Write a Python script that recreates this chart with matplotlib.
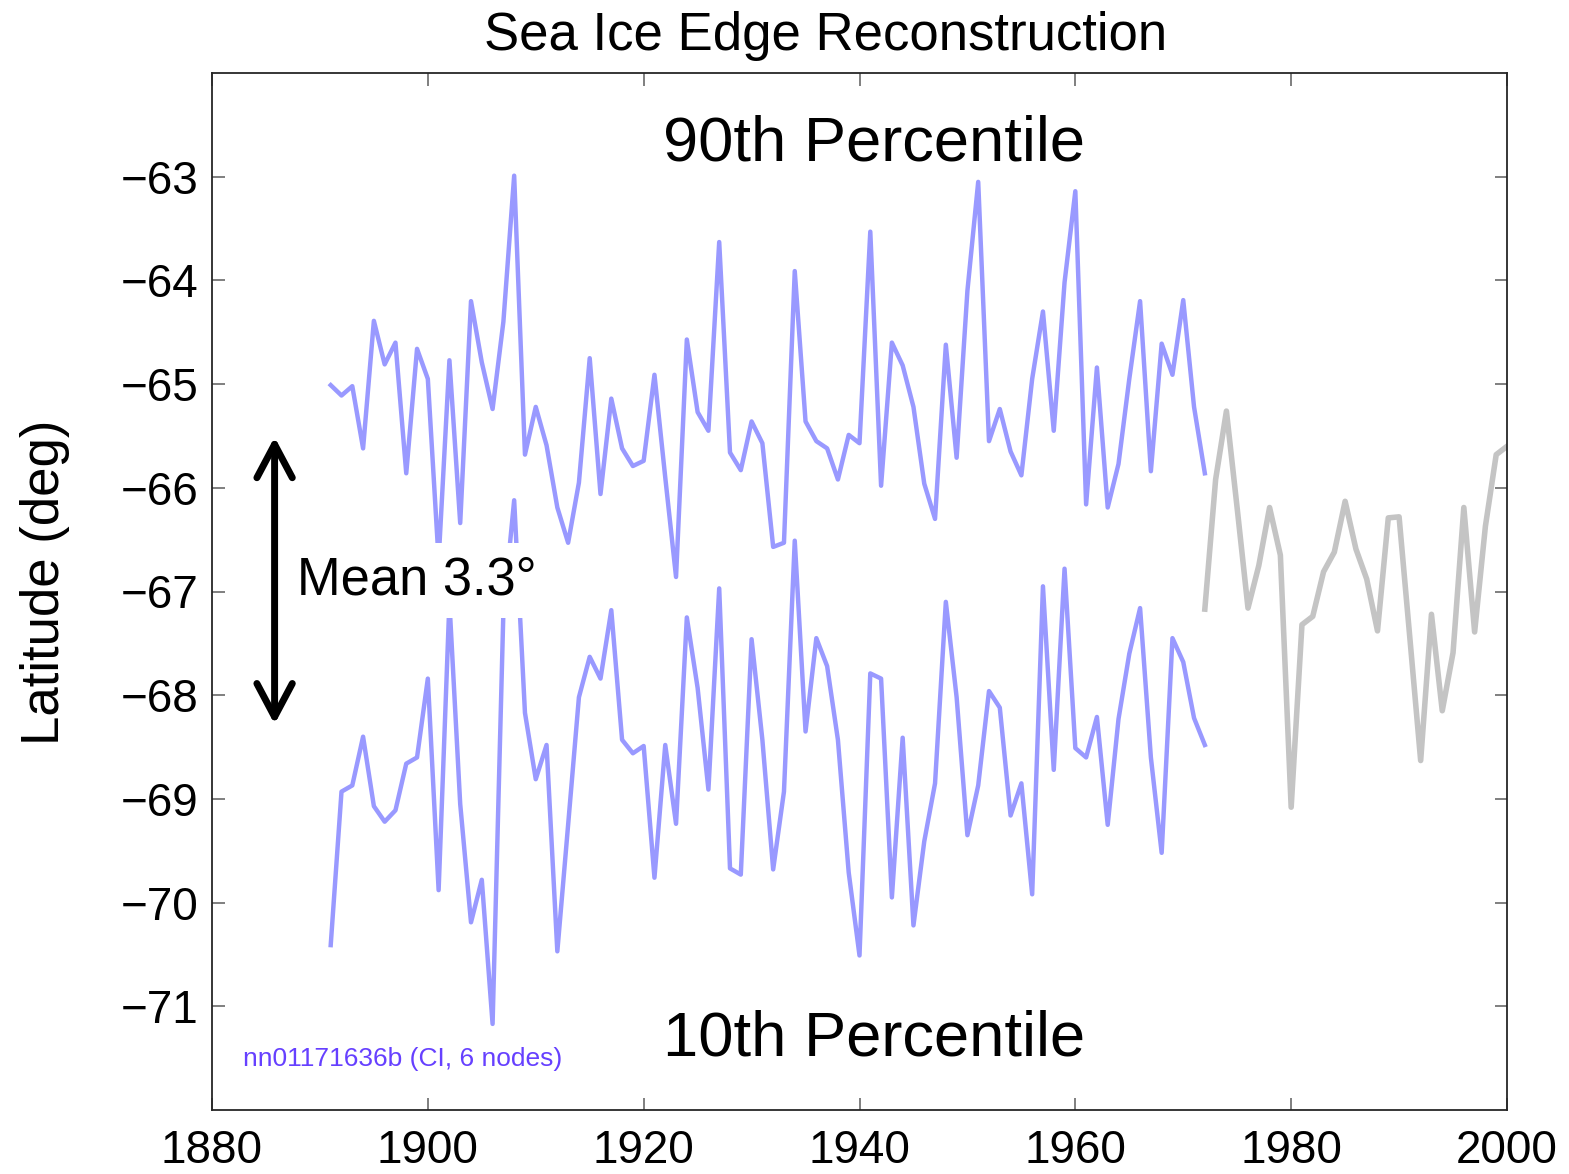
import matplotlib
matplotlib.use("Agg")
import matplotlib.pyplot as plt
import numpy as np

plt.rcParams['font.family'] = ['Liberation Sans', 'DejaVu Sans']

# ---- data ----
years_recon = list(range(1891, 1973))
p90 = [-65.01, -65.11, -65.02, -65.62, -64.39, -64.81, -64.60, -65.86, -64.66, -64.95,
       -66.70, -64.77, -66.34, -64.20, -64.79, -65.24, -64.40, -62.99, -65.68, -65.22,
       -65.59, -66.19, -66.53, -65.95, -64.75, -66.06, -65.14, -65.62, -65.79, -65.74,
       -64.91, -65.90, -66.86, -64.57, -65.27, -65.45, -63.63, -65.66, -65.83, -65.36,
       -65.57, -66.57, -66.53, -63.91, -65.36, -65.55, -65.62, -65.92, -65.49, -65.57,
       -63.53, -65.98, -64.60, -64.82, -65.22, -65.96, -66.30, -64.62, -65.71, -64.10,
       -63.05, -65.55, -65.24, -65.65, -65.88, -64.95, -64.30, -65.45, -64.02, -63.14,
       -66.16, -64.84, -66.19, -65.77, -64.95, -64.20, -65.84, -64.61, -64.91, -64.19,
       -65.22, -65.86]
p10 = [-70.41, -68.93, -68.87, -68.40, -69.07, -69.22, -69.11, -68.66, -68.60, -67.84,
       -69.88, -67.10, -69.05, -70.19, -69.78, -71.17, -67.20, -66.12, -68.17, -68.81,
       -68.48, -70.47, -69.25, -68.02, -67.63, -67.84, -67.18, -68.43, -68.56, -68.49,
       -69.76, -68.48, -69.24, -67.25, -67.93, -68.91, -66.97, -69.67, -69.73, -67.46,
       -68.43, -69.68, -68.93, -66.51, -68.35, -67.45, -67.72, -68.43, -69.71, -70.51,
       -67.79, -67.84, -69.95, -68.41, -70.22, -69.41, -68.85, -67.10, -68.02, -69.35,
       -68.87, -67.96, -68.12, -69.16, -68.85, -69.92, -66.95, -68.72, -66.78, -68.51,
       -68.60, -68.21, -69.25, -68.23, -67.60, -67.16, -68.60, -69.52, -67.45, -67.68,
       -68.22, -68.48]
years_obs = list(range(1972, 2001))
obs = [-67.17, -65.92, -65.26, -66.20, -67.16, -66.75, -66.19, -66.65, -69.08, -67.32,
       -67.24, -66.81, -66.62, -66.13, -66.59, -66.88, -67.38, -66.29, -66.28, -67.45,
       -68.63, -67.22, -68.15, -67.59, -66.19, -67.39, -66.37, -65.68, -65.60]

xticks = [1880, 1900, 1920, 1940, 1960, 1980, 2000]
yticks = [-71, -70, -69, -68, -67, -66, -65, -64, -63]

blue = '#9999ff'
gray = '#c4c4c4'

fig = plt.figure(figsize=(15.69, 11.74), dpi=100)
ax = fig.add_axes([212/1569, 1 - 1110/1174, (1507-212)/1569, (1110-73)/1174])

ax.plot(years_recon, p90, color=blue, lw=3.2, zorder=2)
ax.plot(years_recon, p10, color=blue, lw=3.2, zorder=2)
ax.plot(years_obs, obs, color=gray, lw=4.0, zorder=2)

ax.set_xlim(1880, 2000)
ax.set_ylim(-72, -62)
ax.set_xticks(xticks)
ax.set_yticks(yticks)
ax.tick_params(direction='in', length=9, width=1.2, color='#6a6a6a',
               labelsize=33, top=True, right=True, pad=10, labelcolor='black')
ax.tick_params(axis='x', pad=14)
for s in ax.spines.values():
    s.set_color('#262626')
    s.set_linewidth(1.3)

ax.set_ylabel('Latitude (deg)', fontsize=38)
ax.yaxis.set_label_coords(-0.110, 0.509)

ax.text(0.474, 1.022, 'Sea Ice Edge Reconstruction', transform=ax.transAxes,
        ha='center', va='baseline', fontsize=38)

ax.text(0.511, 0.916, '90th Percentile', transform=ax.transAxes,
        ha='center', va='baseline', fontsize=45.5)
ax.text(0.511, 0.053, '10th Percentile', transform=ax.transAxes,
        ha='center', va='baseline', fontsize=45.5)

ax.text(1887.9, -67.03, 'Mean 3.3°', ha='left', va='baseline', fontsize=37.8,
        zorder=5, bbox=dict(boxstyle='square,pad=0.24', facecolor='white', edgecolor='none'))

ax.annotate('', xy=(1885.8, -65.51), xytext=(1885.8, -68.28),
            arrowprops=dict(arrowstyle='<->,head_length=1.6,head_width=0.85',
                            color='black', lw=5, shrinkA=0, shrinkB=0,
                            mutation_scale=15), zorder=6)

ax.text(0.024, 0.042, 'nn01171636b (CI, 6 nodes)', transform=ax.transAxes,
        ha='left', va='baseline', fontsize=19, color='#6640ff')

fig.savefig('out.png', dpi=100)
